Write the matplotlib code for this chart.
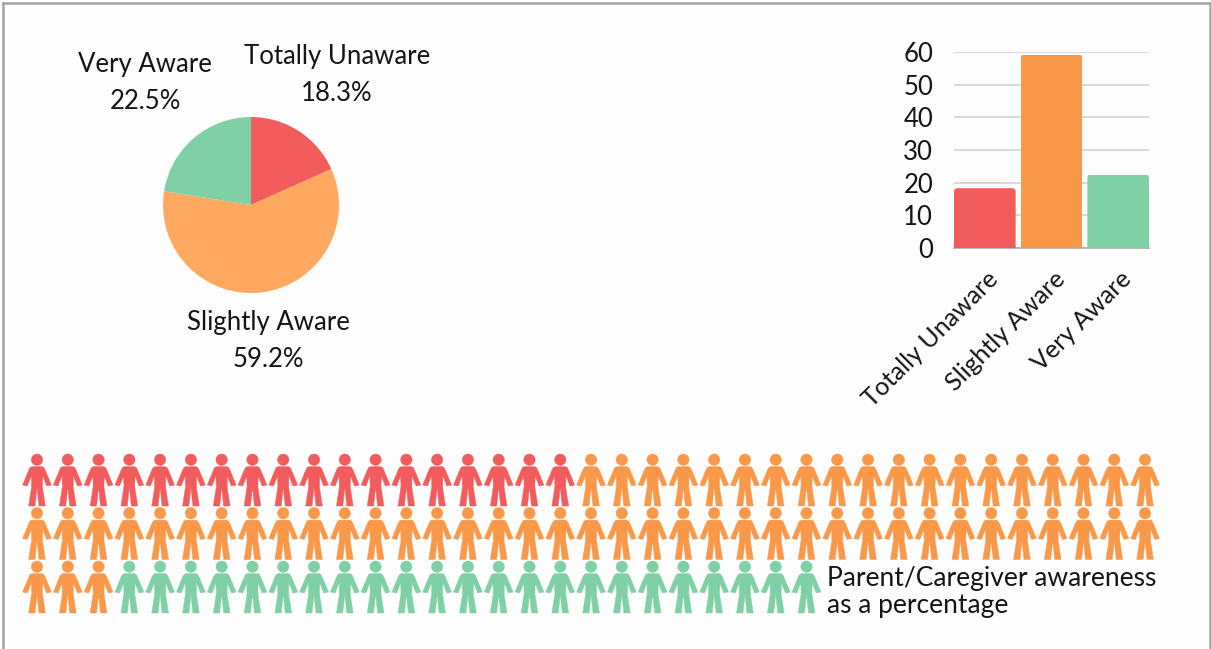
import matplotlib
matplotlib.use("Agg")
import matplotlib.pyplot as plt
from matplotlib.path import Path
from matplotlib.lines import Line2D
from matplotlib.transforms import ScaledTranslation
import numpy as np

W, H = 1211, 649
categories = ["Totally Unaware", "Slightly Aware", "Very Aware"]
percent_values = [18.3, 59.2, 22.5]
people_counts = [18, 59, 23]
y_ticks = [0, 10, 20, 30, 40, 50, 60]
caption = "Parent/Caregiver awareness\nas a percentage"

RED, ORANGE, ORANGE_PIE, GREEN = "#F25C5C", "#F99848", "#FFA85F", "#7FD1A5"
FONT = "Lato"
plt.rcParams["font.family"] = [FONT, "DejaVu Sans"]
INK = "#151515"

fig = plt.figure(figsize=(W / 100, H / 100), dpi=100, facecolor="#FDFDFD")


def box(x0, y0, x1, y1):
    return [x0 / W, 1 - y1 / H, (x1 - x0) / W, (y1 - y0) / H]


# frame
for xs, ys in [((2.5, 2.5), (649, 3)), ((2.5, 1209.5), (3, 3)), ((1209.5, 1209.5), (3, 649))]:
    fig.add_artist(Line2D([x / W for x in xs], [1 - y / H for y in ys], color="#A3A3A3", lw=1.8))

# pie
R = 88
ax_pie = fig.add_axes(box(251 - R, 205 - R, 251 + R, 205 + R))
ax_pie.pie(percent_values, colors=[RED, ORANGE_PIE, GREEN], startangle=90, counterclock=False, radius=1)
ax_pie.set_xlim(-1, 1)
ax_pie.set_ylim(-1, 1)
pie_label_px = [(337, 75), (268, 341), (145, 83)]
for name, val, (x, y) in zip(categories, percent_values, pie_label_px):
    fig.text(x / W, 1 - y / H, f"{name}\n{val}%", ha="center", va="center",
             fontsize=18.5, color=INK, linespacing=1.6)

# bars
ax_bar = fig.add_axes(box(954, 52, 1149, 248))
xpos = np.arange(len(categories))
bar_w = 0.925
bars = ax_bar.bar(xpos, percent_values, width=bar_w, color=[RED, ORANGE, GREEN], zorder=3)
ax_bar.set_xlim(-bar_w / 2, len(categories) - 1 + bar_w / 2)
ax_bar.set_ylim(0, 60)
rx, ry = 0.05, 1.3
for b in bars:
    x0, x1, top = b.get_x(), b.get_x() + b.get_width(), b.get_height()
    verts = [(x0, 0), (x0, top - ry), (x0, top), (x0 + rx, top), (x1 - rx, top), (x1, top),
             (x1, top - ry), (x1, 0), (x0, 0)]
    codes = [Path.MOVETO, Path.LINETO, Path.CURVE3, Path.CURVE3, Path.LINETO, Path.CURVE3,
             Path.CURVE3, Path.LINETO, Path.CLOSEPOLY]
    b.set_clip_path(Path(verts, codes), ax_bar.transData)
ax_bar.set_yticks(y_ticks)
ax_bar.set_xticks(xpos)
ax_bar.set_xticklabels(categories, rotation=45, ha="right", rotation_mode="anchor")
ax_bar.tick_params(axis="y", length=0, labelsize=18.5, labelcolor=INK, pad=15)
ax_bar.tick_params(axis="x", length=0, labelsize=18, labelcolor=INK, pad=14)
shift = ScaledTranslation(1.5 / 100, 0, fig.dpi_scale_trans)
for lab in ax_bar.get_xticklabels():
    lab.set_transform(lab.get_transform() + shift)
ax_bar.grid(axis="y", color="#D0D0D0", lw=1.1, zorder=0)
ax_bar.set_axisbelow(True)
for s in ["top", "left", "right"]:
    ax_bar.spines[s].set_visible(False)
ax_bar.spines["bottom"].set_color("#AAAAAA")
ax_bar.spines["bottom"].set_linewidth(1.2)
ax_bar.patch.set_alpha(0)

# pictogram: one person per percent, 37 per row
head = Path.circle((0, 60.5), 17)
body_pts = [(-14, 40), (-20, 38), (-24, 31), (-43, -15), (-29, -18), (-17, 12), (-16, -20),
            (-25, -77.5), (-6, -77.5), (0, -22), (6, -77.5), (25, -77.5), (16, -20), (17, 12),
            (29, -18), (43, -15), (24, 31), (20, 38), (14, 40), (-14, 40)]
body = Path(body_pts, [Path.MOVETO] + [Path.LINETO] * (len(body_pts) - 2) + [Path.CLOSEPOLY])
person = Path.make_compound_path(head, body)

PER_ROW = 37
pitch_x, pitch_y = 30.78, 53.5
ax_p = fig.add_axes(box(37 - pitch_x / 2, 480 - pitch_y / 2, 37 + 36.5 * pitch_x, 480 + 2.5 * pitch_y))
ax_p.set_xlim(-0.5, PER_ROW - 0.5)
ax_p.set_ylim(2.5, -0.5)
ax_p.axis("off")
person_colors = np.repeat([RED, ORANGE, GREEN], people_counts)
idx = np.arange(sum(people_counts))
size_pt = 52 * 0.72
ax_p.scatter(idx % PER_ROW, idx // PER_ROW, marker=person, s=size_pt ** 2,
             c=list(person_colors), edgecolors="face", linewidths=0.3, clip_on=False)

fig.text(827 / W, 1 - 592 / H, caption, ha="left", va="center", fontsize=19, color=INK,
         linespacing=1.12)

fig.savefig("out.png", dpi=100, facecolor=fig.get_facecolor())
